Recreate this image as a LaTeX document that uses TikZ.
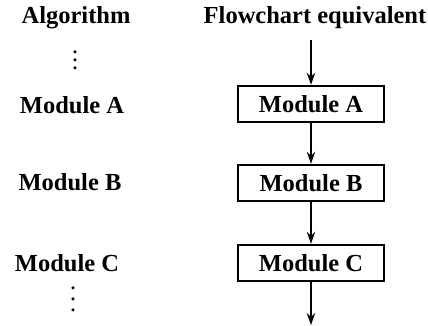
\documentclass[tikz,border=0pt]{standalone}
\usepackage{fontspec}
\setmainfont{Liberation Serif}
\usetikzlibrary{arrows.meta, positioning}

\begin{document}
\begin{tikzpicture}[x=0.4pt, y=-0.4pt,
  lbl/.style={font=\bfseries\fontsize{9.8}{12}\selectfont, inner sep=0pt},
  modbox/.style={lbl, draw, line width=0.8pt, minimum width=58pt, minimum height=14.6pt},
  flow/.style={-{Stealth[length=4.8pt, width=3.4pt]}, line width=0.6pt}]
  \useasboundingbox (0,0) rectangle (428,326);
  % column headings
  \node[lbl] (algo) at (76,18) {Algorithm};
  \node[lbl] (flowhd) at (315,18) {Flowchart equivalent};
  % algorithm side
  \foreach \y in {52,60,68} \fill (75,\y) circle (0.7pt);
  \node[lbl] (modA) at (72,105) {Module A};
  \node[lbl] (modB) at (70,182) {Module B};
  \node[lbl] (modC) at (67,263) {Module C};
  \foreach \y in {288,299,310} \fill (73,\y) circle (0.7pt);
  % flowchart side
  \coordinate (start) at (311,40);
  \node[modbox] (boxA) at (311,104) {Module A};
  \node[modbox] (boxB) at (311,183) {Module B};
  \node[modbox] (boxC) at (311,263) {Module C};
  \coordinate (stop) at (311,325);
  \draw[flow] (start) -- (boxA.north);
  \draw[flow] (boxA) -- (boxB);
  \draw[flow] (boxB) -- (boxC);
  \draw[flow] (boxC.south) -- (stop);
\end{tikzpicture}
\end{document}
